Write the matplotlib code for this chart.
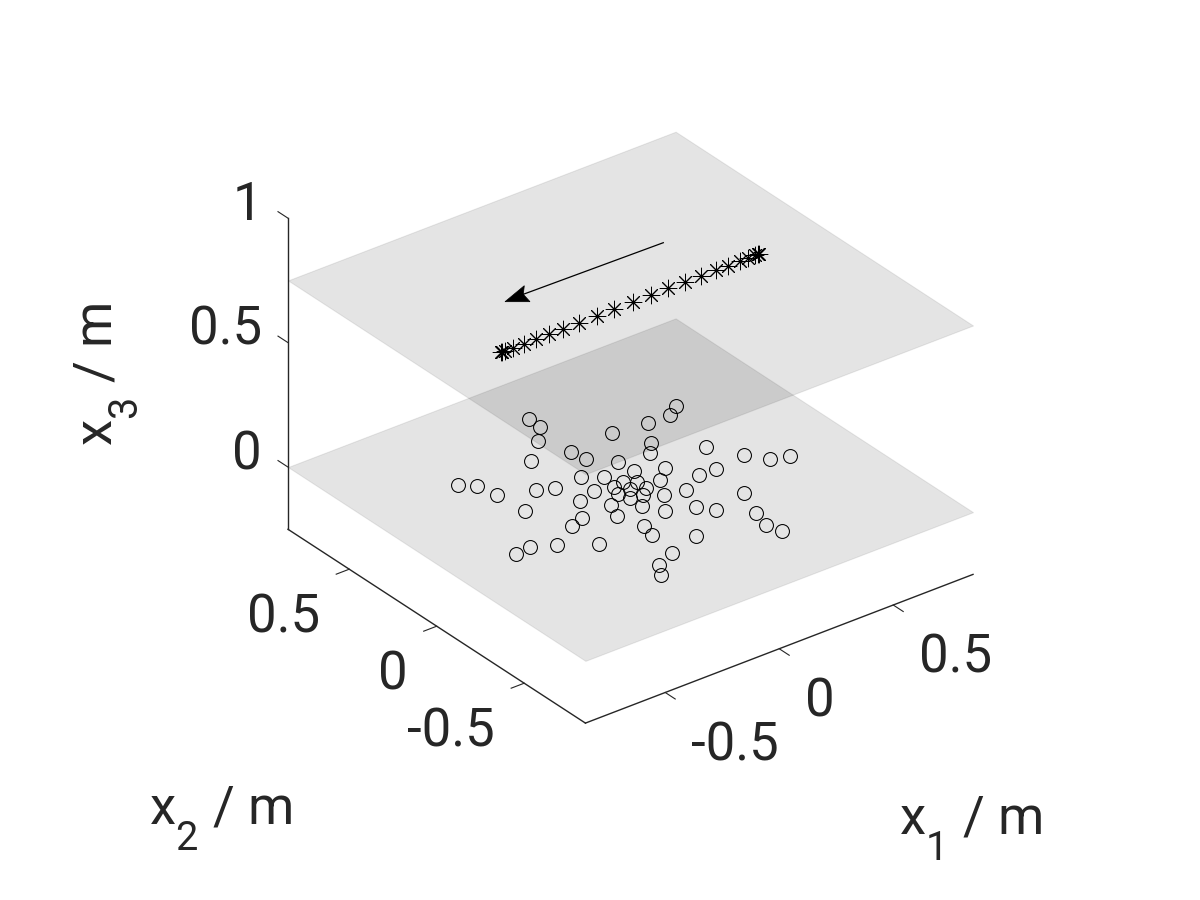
import matplotlib
matplotlib.use("Agg")
import matplotlib.pyplot as plt
import matplotlib._mathtext as mathtext_internals
from matplotlib.lines import Line2D
from matplotlib.patches import Polygon
from matplotlib.transforms import Affine2D
from mpl_toolkits.mplot3d.art3d import Poly3DCollection

plt.rcParams['font.family'] = ['Roboto', 'DejaVu Sans']
plt.rcParams['mathtext.default'] = 'regular'
mathtext_internals.SHRINK_FACTOR = 0.75
mathtext_internals.FontConstantsBase.sub1 = 0.95

circle_x1 = [0.019, 0.016, -0.05, 0.189, -0.005, 0.007, 0.083, -0.154, -0.083, -0.019, 0.09, -0.457, -0.409, -0.392, -0.262, -0.201, -0.106, -0.032, 0.013, -0.187, -0.382, -0.118, -0.148, -0.054, 0.002, -0.036, -0.255, -0.315, -0.52, -0.589, -0.437, -0.319, 0.481, 0.426, 0.332, 0.255, 0.21, 0.391, 0.462, 0.517, 0.583, 0.187, 0.323, 0.253, 0.124, 0.05, 0.051, 0.151, 0.013, 0.071, 0.301, -0.036, 0.109, 0.149, 0.004, 0.247, 0.224, 0.243, -0.118, -0.134, -0.016, -0.155, -0.242, -0.278]
circle_x2 = [0.606, 0.538, 0.465, 0.353, 0.334, 0.264, 0.179, 0.369, 0.174, 0.126, 0.096, 0.39, 0.345, 0.252, 0.198, 0.168, 0.069, 0.051, 0.058, 0.044, 0.104, -0.044, -0.118, 0.003, 0.004, -0.046, -0.054, -0.078, -0.106, -0.115, -0.152, -0.233, 0.367, 0.33, 0.332, 0.215, 0.162, 0.076, -0.048, -0.126, -0.149, 0.044, -0.065, -0.064, -0.009, 0.03, -0.024, -0.118, -0.054, -0.101, -0.259, -0.115, -0.235, -0.292, -0.19, -0.393, -0.481, -0.548, -0.228, -0.295, -0.394, -0.437, -0.476, -0.536]
star_x1 = [-0.566, -0.562, -0.55, -0.517, -0.467, -0.414, -0.359, -0.295, -0.225, -0.148, -0.071, 0.01, 0.089, 0.166, 0.24, 0.309, 0.374, 0.428, 0.479, 0.517, 0.544, 0.558, 0.565]
star_x2 = [0.0] * len(star_x1)
star_x3 = [0.75] * len(star_x1)
circle_x3 = [0.0] * len(circle_x1)
plane_heights = [0.0, 0.75]
x_limits = (-0.85, 0.85)
y_limits = (-0.85, 0.85)
z_limits = (-0.25, 1.0)
xy_ticks = [-0.5, 0, 0.5]
xy_ticklabels = ['-0.5', '0', '0.5']
z_ticks = [0, 0.5, 1]
z_ticklabels = ['0', '0.5', '1']

W, H = 1200, 900
dark = (0.15, 0.15, 0.15)
fig = plt.figure(figsize=(12, 9), dpi=100)
side = 756
ax = fig.add_axes([242.3 / W, 115.5 / H, side / W, side / H], projection='3d', proj_type='ortho')
ax.patch.set_alpha(0)
ax.computed_zorder = False
ax.view_init(elev=30, azim=-127.5)
ax.set_xlim(*x_limits, view_margin=0)
ax.set_ylim(*y_limits, view_margin=0)
ax.set_zlim(*z_limits, view_margin=0)
ax.set_box_aspect((1.7, 1.7, 1.25))
ax.grid(False)

for h in plane_heights:
    verts = [[(x_limits[0], y_limits[0], h), (x_limits[1], y_limits[0], h),
              (x_limits[1], y_limits[1], h), (x_limits[0], y_limits[1], h)]]
    ax.add_collection3d(Poly3DCollection(verts, facecolor=(0, 0, 0, 0.107),
                                         edgecolor=(0, 0, 0, 0.08), linewidth=0.8, zorder=1))

ax.plot(circle_x1, circle_x2, circle_x3, ls='none', marker='o', ms=10, mfc='none',
        mec='black', mew=0.75, zorder=3)
ax.plot(star_x1, star_x2, star_x3, ls='none', marker=(8, 2, 0), ms=12.5, mec='black',
        mew=0.7, zorder=3)

ax.set_xticks(xy_ticks, labels=xy_ticklabels, ha='left', va='center_baseline')
ax.set_yticks(xy_ticks, labels=xy_ticklabels, ha='right', va='center_baseline')
ax.set_zticks(z_ticks, labels=z_ticklabels, ha='right', va='baseline')
ax.tick_params(axis='x', labelsize=38, labelcolor=dark, color=dark, width=0.75, pad=18)
ax.tick_params(axis='y', labelsize=38, labelcolor=dark, color=dark, width=0.75, pad=17)
ax.tick_params(axis='z', labelsize=38, labelcolor=dark, color=dark, width=0.75, pad=5)

for axis in (ax.xaxis, ax.yaxis, ax.zaxis):
    axis.set_pane_color((1, 1, 1, 0))
    axis.pane.set_edgecolor((1, 1, 1, 0))
    axis.line.set_color(dark)
    axis.line.set_linewidth(1.0)
    axis._axinfo['tick']['inward_factor'] = 0.0
    axis.set_rotate_label(False)
ax.xaxis._axinfo['tick']['outward_factor'] = -0.42
ax.yaxis._axinfo['tick']['outward_factor'] = -0.42
ax.zaxis._axinfo['tick']['outward_factor'] = 0.42

ax.zaxis.set_ticks_position('upper')
ax.zaxis._get_tickdir = lambda pos: 1

def nudge_ticklabels(axis, dx, dy):
    shifted = ax.transData + Affine2D().translate(dx, dy)
    for tick in axis.get_major_ticks():
        tick.label1.get_transform = lambda: shifted

nudge_ticklabels(ax.xaxis, -2, -1.5)
nudge_ticklabels(ax.yaxis, 5, -3)
nudge_ticklabels(ax.zaxis, 5.5, -4)

def fix_label(axis, text, pos, rotation=0):
    axis.set_label_text(text, fontsize=38, color=dark, rotation=rotation)
    lab = axis.label
    lab.set_position((pos[0] / W, 1 - pos[1] / H))
    lab.set_position = lambda *a, **k: None
    lab.get_transform = lambda: fig.transFigure

fix_label(ax.xaxis, 'x$_1$ / m', (971, 829))
fix_label(ax.yaxis, 'x$_2$ / m', (220.5, 819))
fix_label(ax.zaxis, 'x$_3$ / m', (106, 374), rotation=90)

def fp(x, y):
    return (x / W, 1 - y / H)

fig.add_artist(Line2D(*zip(fp(663.3, 242.7), fp(523.3, 294.3)), transform=fig.transFigure,
                      color='black', lw=0.9))
fig.add_artist(Polygon([fp(505, 301.7), fp(524.3, 285.7), fp(523.3, 294.3), fp(530, 301.7)],
                       closed=True, transform=fig.transFigure, facecolor='black',
                       edgecolor='black', lw=0.5))

fig.savefig('out.png', dpi=100)
